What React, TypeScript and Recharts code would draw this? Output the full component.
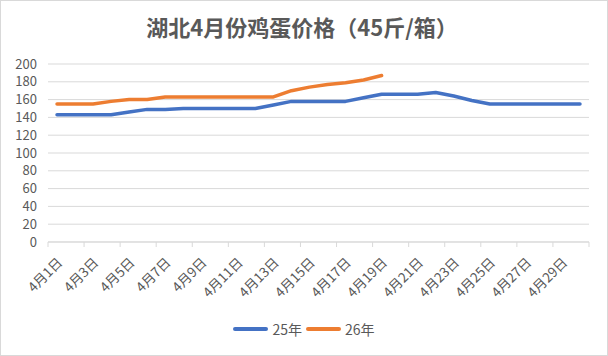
import { CartesianGrid, Legend, Line, LineChart, XAxis, YAxis } from "recharts";

const days = [
  "4月1日", "4月2日", "4月3日", "4月4日", "4月5日", "4月6日", "4月7日", "4月8日", "4月9日", "4月10日",
  "4月11日", "4月12日", "4月13日", "4月14日", "4月15日", "4月16日", "4月17日", "4月18日", "4月19日", "4月20日",
  "4月21日", "4月22日", "4月23日", "4月24日", "4月25日", "4月26日", "4月27日", "4月28日", "4月29日", "4月30日",
];

const price25 = [
  143, 143, 143, 143, 146, 149, 149, 150, 150, 150,
  150, 150, 154, 158, 158, 158, 158, 162, 166, 166,
  166, 168, 164, 159, 155, 155, 155, 155, 155, 155,
];

const price26 = [
  155, 155, 155, 158, 160, 160, 163, 163, 163, 163,
  163, 163, 163, 170, 174, 177, 179, 182, 187,
];

const yTicks = [0, 20, 40, 60, 80, 100, 120, 140, 160, 180, 200];

const series = [
  { key: "y25", name: "25年", color: "#4472C4" },
  { key: "y26", name: "26年", color: "#ED7D31" },
];

const FONT = '"Noto Sans CJK SC", "Noto Sans", sans-serif';
const TEXT = "#595959";
const GRID = "#d9d9d9";
const TICK_SIZE = 6;

const data = days.map((day, i) => ({
  day,
  y25: price25[i],
  y26: i < price26.length ? price26[i] : null,
}));

// Excel style: labels every 2nd day, tick marks on the category borders
function DayTick(props: any) {
  const { x, y, index, payload } = props;
  const half = payload?.offset ?? 0;
  const axisY = y - TICK_SIZE;
  const last = index === days.length - 1;
  return (
    <g>
      {index % 2 === 0 && (
        <line x1={x - half} x2={x - half} y1={axisY} y2={axisY + 5} stroke={GRID} />
      )}
      {last && <line x1={x + half} x2={x + half} y1={axisY} y2={axisY + 5} stroke={GRID} />}
      {index % 2 === 0 && (
        <text
          transform={`translate(${x + 3}, ${axisY + 18}) rotate(-45)`}
          textAnchor="end"
          dy="0.35em"
          fill={TEXT}
          fontSize={13.5}
          fontFamily={FONT}
        >
          {payload.value}
        </text>
      )}
    </g>
  );
}

function LegendContent() {
  return (
    <div
      style={{
        height: 44,
        display: "flex",
        justifyContent: "center",
        alignItems: "flex-start",
        paddingTop: 7,
        paddingLeft: 19,
        boxSizing: "border-box",
        fontFamily: FONT,
        fontSize: 14,
        color: TEXT,
      }}
    >
      {series.map((s) => (
        <div key={s.key} style={{ display: "flex", alignItems: "center", margin: "0 2px" }}>
          <span
            style={{
              display: "inline-block",
              width: 35,
              height: 4,
              borderRadius: 2,
              background: s.color,
              marginRight: 4,
            }}
          />
          <span>{s.name}</span>
        </div>
      ))}
    </div>
  );
}

export default function App() {
  return (
    <div style={{ position: "absolute", left: 0, top: 0, width: 608, height: 356, background: "#fff" }}>
      <div
        style={{
          position: "absolute",
          left: 0,
          top: 10,
          width: 604,
          textAlign: "center",
          fontFamily: FONT,
          fontWeight: 700,
          fontSize: 22,
          color: TEXT,
          zIndex: 2,
        }}
      >
        湖北4月份鸡蛋价格（45斤/箱）
      </div>
      <LineChart
        width={608}
        height={356}
        data={data}
        margin={{ top: 64, right: 19, left: 0, bottom: 0 }}
        style={{ fontFamily: FONT }}
      >
        <CartesianGrid vertical={false} stroke={GRID} />
        <XAxis
          dataKey="day"
          scale="band"
          interval={0}
          height={70}
          tickLine={false}
          tickSize={TICK_SIZE}
          tickMargin={0}
          axisLine={{ stroke: GRID }}
          tick={<DayTick />}
        />
        <YAxis
          width={48}
          domain={[0, 200]}
          ticks={yTicks}
          interval={0}
          axisLine={false}
          tickLine={false}
          tickMargin={5}
          tick={{ fill: TEXT, fontSize: 13 }}
        />
        <Legend verticalAlign="bottom" content={<LegendContent />} />
        {series.map((s) => (
          <Line
            key={s.key}
            type="linear"
            dataKey={s.key}
            name={s.name}
            stroke={s.color}
            strokeWidth={3.5}
            strokeLinecap="round"
            strokeLinejoin="round"
            dot={false}
            activeDot={false}
            isAnimationActive={false}
          />
        ))}
      </LineChart>
      <div
        style={{
          position: "absolute",
          left: 0,
          top: 0,
          width: 608,
          height: 356,
          boxSizing: "border-box",
          border: `1px solid ${GRID}`,
          pointerEvents: "none",
        }}
      />
    </div>
  );
}
